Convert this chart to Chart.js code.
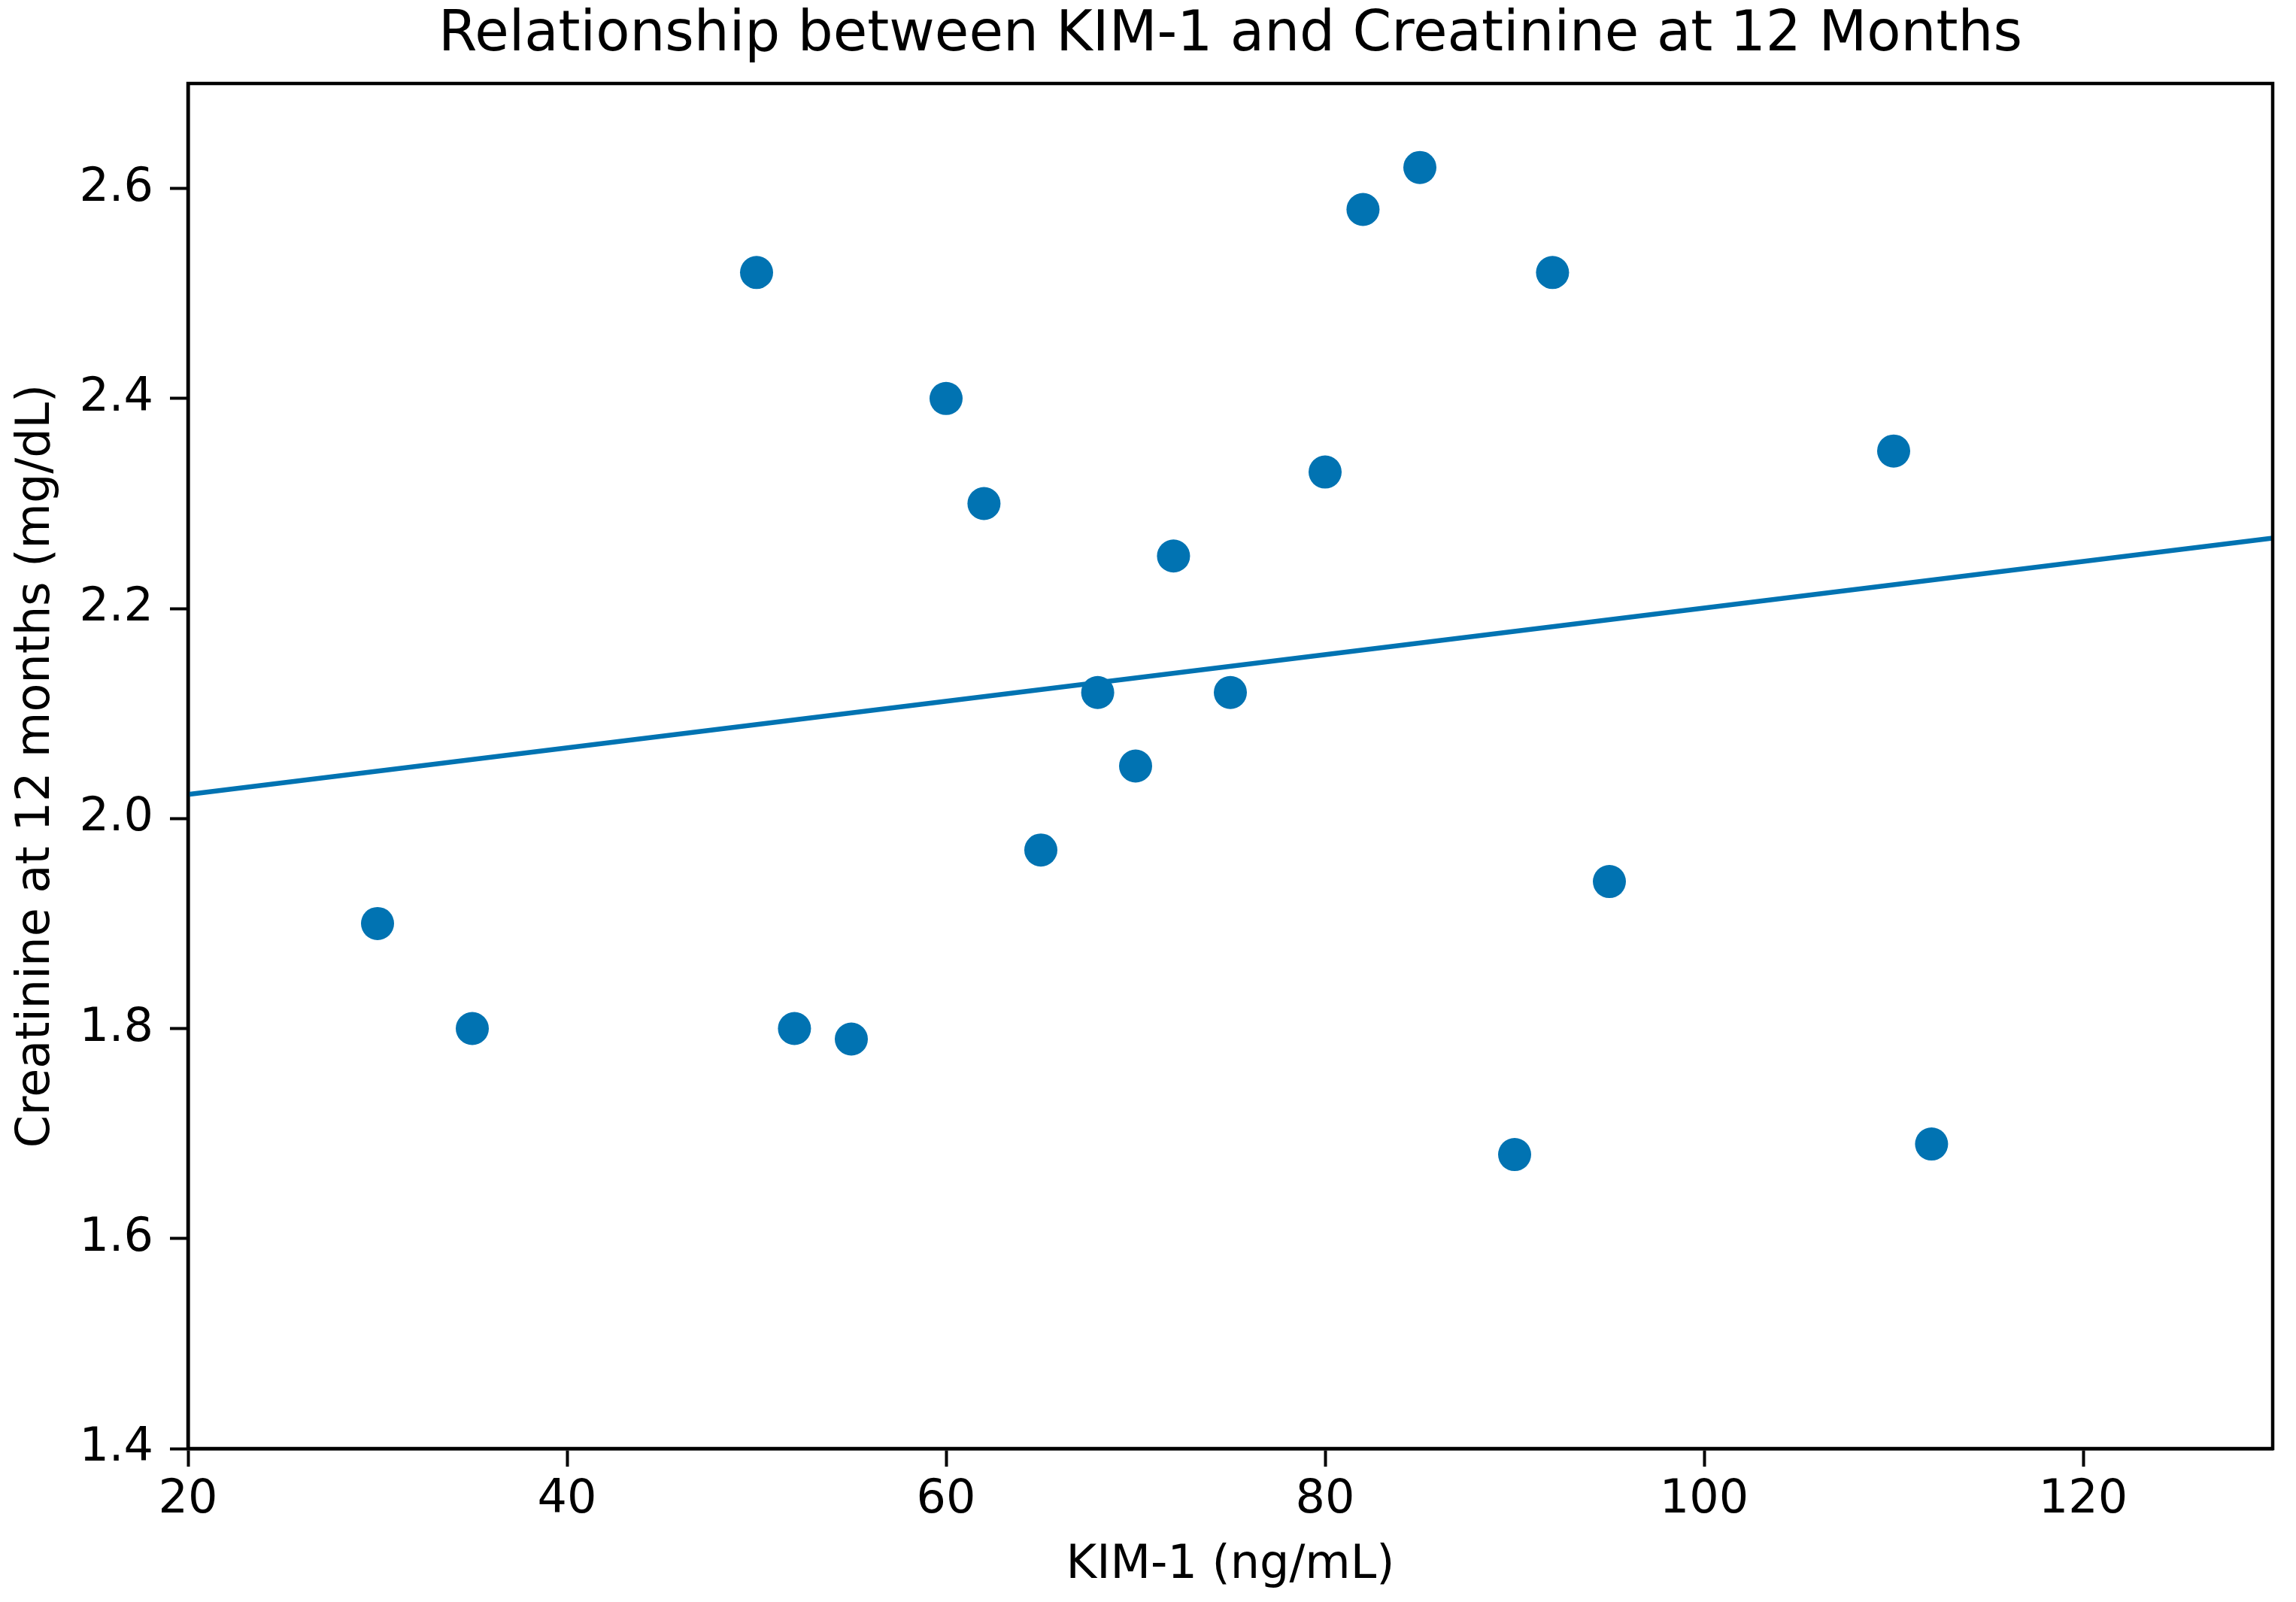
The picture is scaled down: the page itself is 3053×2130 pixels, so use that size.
<!DOCTYPE html>
<html>
<head>
<meta charset="utf-8">
<title>KIM-1 vs Creatinine</title>
<script src="https://cdn.jsdelivr.net/npm/chart.js@4.4.1/dist/chart.umd.min.js"></script>
<style>
  html, body { margin: 0; padding: 0; background: #fff; }
  #chart { display: block; }
</style>
</head>
<body>
<canvas id="chart" width="3053" height="2130"></canvas>
<script>
// data
const kim1 = [30, 35, 50, 52, 55, 60, 62, 65, 68, 70, 72, 75, 80, 82, 85, 90, 92, 95, 110, 112];
const creatinine = [1.90, 1.80, 2.52, 1.80, 1.79, 2.40, 2.30, 1.97, 2.12, 2.05, 2.25, 2.12, 2.33, 2.58, 2.62, 1.68, 2.52, 1.94, 2.35, 1.69];
// fitted line, ends read at the axis limits
const fitX = [20, 130];
const fitY = [2.023, 2.267];

const xTicks = [20, 40, 60, 80, 100, 120];
const yTicks = [1.4, 1.6, 1.8, 2.0, 2.2, 2.4, 2.6];

const BLUE = '#0173B2';
const FONT = 'DejaVu Sans';

// box round the plot (top + right spines too)
const frame = {
    id: 'frame',
    afterDatasetsDraw(chart) {
        const a = chart.chartArea;
        const ctx = chart.ctx;
        ctx.save();
        ctx.strokeStyle = '#000';
        ctx.lineWidth = 4.5;
        ctx.strokeRect(a.left, a.top, a.right - a.left, a.bottom - a.top);
        ctx.restore();
    }
};

const ctx = document.getElementById('chart').getContext('2d');
new Chart(ctx, {
    data: {
        datasets: [{
            type: 'scatter',
            label: 'Patients',
            xAxisID: 'x',
            yAxisID: 'y',
            data: kim1.map((x, i) => ({ x: x, y: creatinine[i] })),
            backgroundColor: BLUE,
            borderColor: BLUE,
            borderWidth: 0,
            pointRadius: 22,
            pointHoverRadius: 22
        }, {
            type: 'line',
            label: 'Fit',
            xAxisID: 'x',
            yAxisID: 'y',
            data: fitX.map((x, i) => ({ x: x, y: fitY[i] })),
            borderColor: BLUE,
            borderWidth: 6.5,
            pointRadius: 0,
            fill: false
        }]
    },
    options: {
        responsive: false,
        animation: false,
        devicePixelRatio: 1,
        layout: { padding: { left: 0, right: 31, top: 0, bottom: 0 } },
        plugins: {
            legend: { display: false },
            tooltip: { enabled: false },
            title: { display: false }
        },
        scales: {
            // empty top axis, only used so the title centres over the plot
            top: {
                type: 'linear',
                position: 'top',
                min: 0,
                max: 1,
                afterFit(scale) { scale.height = 111; },
                ticks: { display: false },
                grid: { display: false },
                border: { display: false },
                title: {
                    display: true,
                    text: 'Relationship between KIM-1 and Creatinine at 12 Months',
                    color: '#000',
                    font: { family: FONT, size: 74, weight: 'normal', lineHeight: 1.2 },
                    padding: { top: 3, bottom: 0 }
                }
            },
            x: {
                type: 'linear',
                min: 20,
                max: 130,
                afterFit(scale) { scale.height = 204; },
                afterBuildTicks(scale) { scale.ticks = xTicks.map(v => ({ value: v })); },
                ticks: {
                    color: '#000',
                    padding: 8,
                    font: { family: FONT, size: 62 },
                    callback: v => String(v)
                },
                grid: {
                    drawOnChartArea: false,
                    drawTicks: true,
                    tickLength: 24,
                    tickWidth: 4,
                    tickColor: '#000'
                },
                border: { display: true, color: '#000', width: 4.5 },
                title: {
                    display: true,
                    text: 'KIM-1 (ng/mL)',
                    color: '#000',
                    font: { family: FONT, size: 62, lineHeight: 1.2 },
                    padding: { top: 0, bottom: 11 }
                }
            },
            y: {
                type: 'linear',
                min: 1.4,
                max: 2.7,
                afterFit(scale) { scale.width = 250; },
                afterBuildTicks(scale) { scale.ticks = yTicks.map(v => ({ value: v })); },
                ticks: {
                    color: '#000',
                    padding: 22,
                    font: { family: FONT, size: 62 },
                    callback: v => Number(v).toFixed(1)
                },
                grid: {
                    drawOnChartArea: false,
                    drawTicks: true,
                    tickLength: 24,
                    tickWidth: 4,
                    tickColor: '#000'
                },
                border: { display: true, color: '#000', width: 4.5 },
                title: {
                    display: true,
                    text: 'Creatinine at 12 months (mg/dL)',
                    color: '#000',
                    font: { family: FONT, size: 62, lineHeight: 1.2 },
                    padding: { top: 12, bottom: 0 }
                }
            }
        }
    },
    plugins: [frame]
});
</script>
</body>
</html>
